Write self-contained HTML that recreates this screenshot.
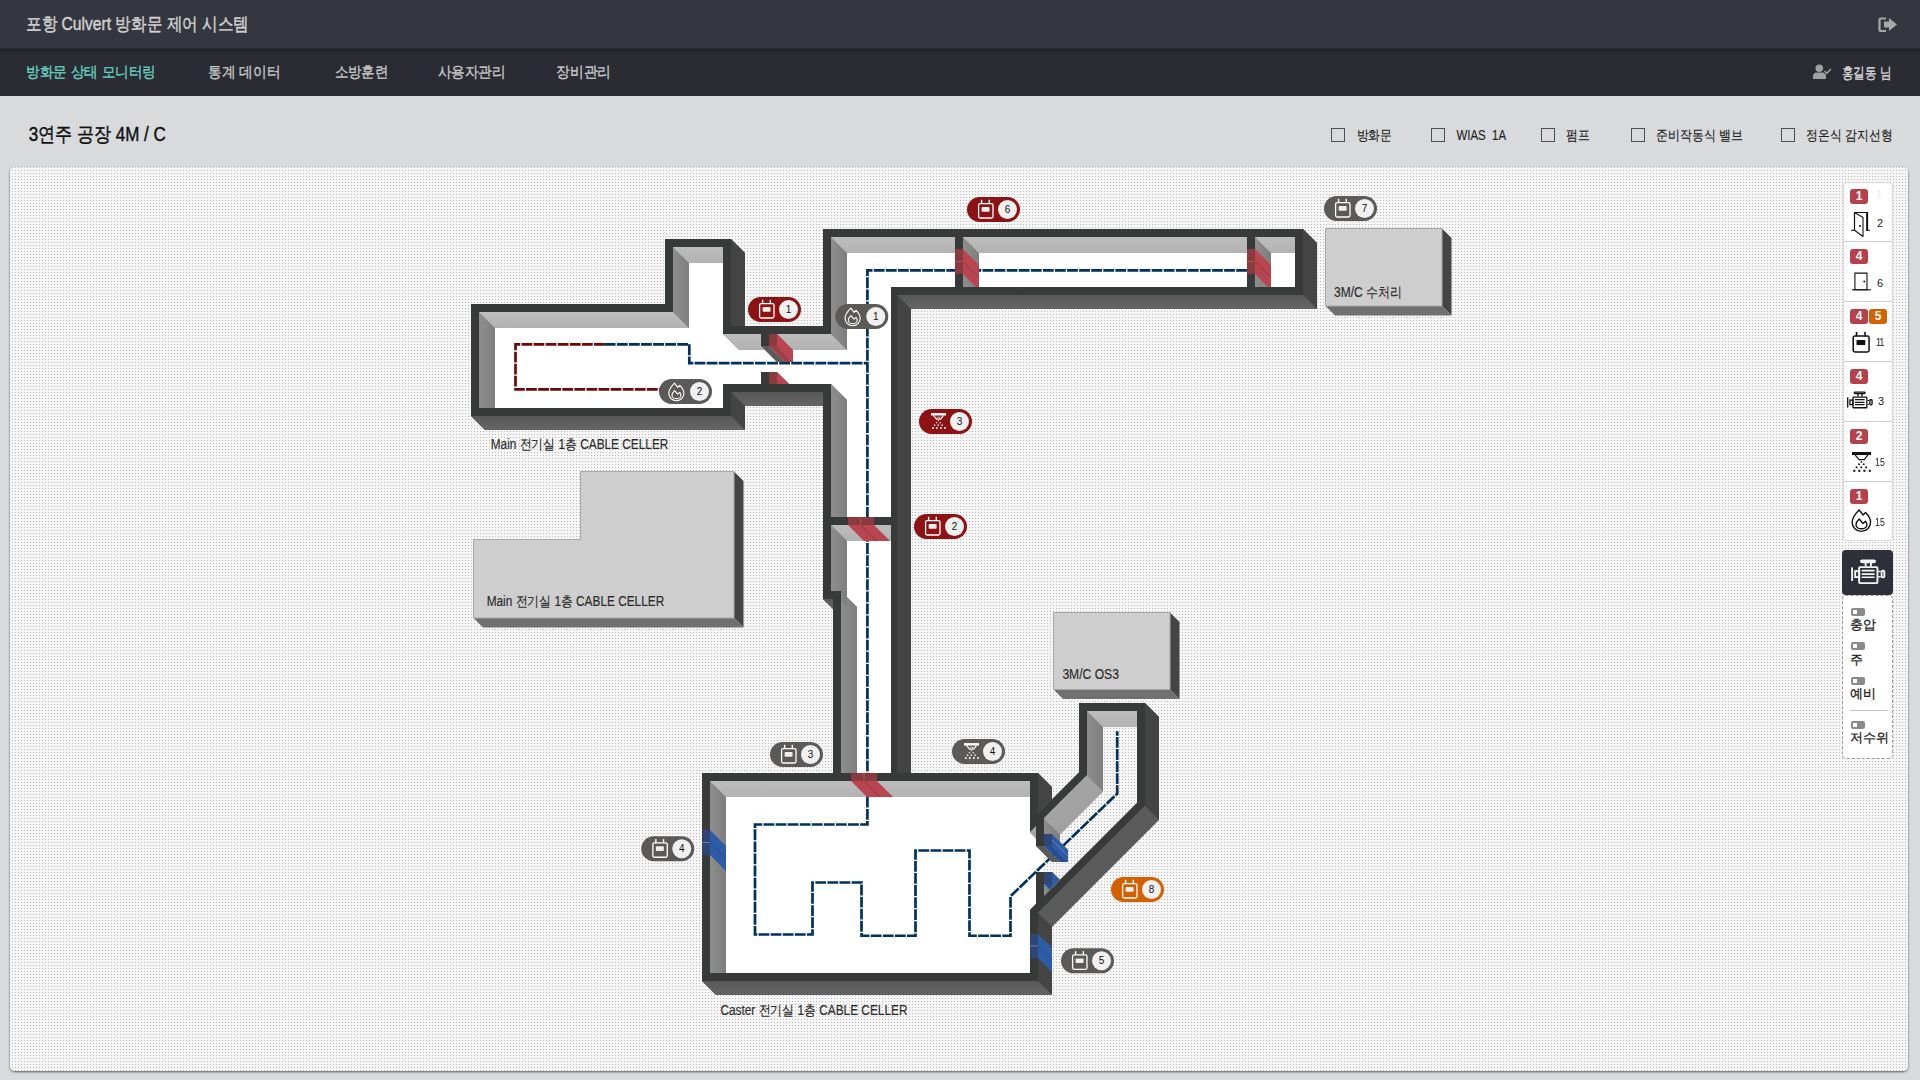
<!DOCTYPE html>
<html><head><meta charset="utf-8">
<style>
html,body{margin:0;padding:0;width:1920px;height:1080px;overflow:hidden;background:#d9dadc;font-family:"Liberation Sans",sans-serif;}
.hdr{position:absolute;left:0;top:0;width:1920px;height:48px;background:#34373f;border-bottom:1px solid #2b2c31;}
.nav{position:absolute;left:0;top:49px;width:1920px;height:47px;background:#2a2b33;box-shadow:inset 0 3px 3px -2px rgba(0,0,0,.35);}
.t{position:absolute;white-space:nowrap;line-height:1;}
svg.dg{position:absolute;left:0;top:0;}
svg text{font-family:"Liberation Sans",sans-serif;}
.bl{font-size:14px;fill:#2a2a2a;}
.bn{font-size:10px;fill:#111;text-anchor:middle;}
.cb{position:absolute;top:128px;width:12px;height:12px;border:1px solid #4a5058;}
.sb{position:absolute;left:1843px;width:50px;background:#fff;}
.rb{position:absolute;height:15px;width:18px;border-radius:3px;background:#b8404a;color:#fff;font-size:12px;font-weight:bold;text-align:center;line-height:15px;}
.num{position:absolute;font-size:11px;color:#222;line-height:1;}
.lbl{position:absolute;font-size:13px;color:#222;line-height:1;white-space:nowrap;-webkit-text-stroke:0.3px #222;}
.tg{position:absolute;left:1851px;width:14px;height:8px;border-radius:2px;background:#8a8a8a;}
.tg:after{content:"";position:absolute;left:2px;top:2px;width:4px;height:4px;background:#fff;}
</style></head><body>
<div class="hdr"></div>
<div class="nav"></div>
<div class="cb" style="left:1331px"></div><div class="cb" style="left:1431px"></div><div class="cb" style="left:1541px"></div><div class="cb" style="left:1631px"></div><div class="cb" style="left:1781px"></div>
<svg class="dg" width="1920" height="1080" viewBox="0 0 1920 1080">
<defs>
<linearGradient id="gIT" x1="0" y1="0" x2="0" y2="1"><stop offset="0" stop-color="#bdbdbd"/><stop offset="1" stop-color="#b2b2b2"/></linearGradient>
<linearGradient id="gIL" x1="0" y1="0" x2="1" y2="0"><stop offset="0" stop-color="#8e8e8e"/><stop offset="1" stop-color="#7e7e7e"/></linearGradient>
<linearGradient id="gID" x1="0" y1="0" x2="1" y2="1"><stop offset="0" stop-color="#a9a9a9"/><stop offset="1" stop-color="#9c9c9c"/></linearGradient>
<linearGradient id="gOB" x1="0" y1="0" x2="0" y2="1"><stop offset="0" stop-color="#585858"/><stop offset="1" stop-color="#656565"/></linearGradient>
<pattern id="dots" x="0" y="0" width="3" height="3" patternUnits="userSpaceOnUse"><rect width="3" height="3" fill="#f6f6f6"/><rect x="0" y="2" width="1" height="1" fill="#b8b8b8"/></pattern>
<filter id="psh" x="-1%" y="-1%" width="102%" height="103%"><feGaussianBlur in="SourceAlpha" stdDeviation="1"/><feOffset dy="0.5"/><feComponentTransfer><feFuncA type="linear" slope="0.6"/></feComponentTransfer><feMerge><feMergeNode/><feMergeNode in="SourceGraphic"/></feMerge></filter>
</defs>
<!-- header icons -->
<path d="M1886,18.5 L1881,18.5 Q1879.5,18.5 1879.5,20 L1879.5,29.5 Q1879.5,31 1881,31 L1886,31" fill="none" stroke="#a8a8a8" stroke-width="2.2"/>
<path d="M1884,21.6 L1889,21.6 L1889,18 L1897,24.5 L1889,31 L1889,27.4 L1884,27.4 Z" fill="#a8a8a8"/>
<circle cx="1819.3" cy="68.3" r="3.8" fill="#a0a0a0"/>
<path d="M1813,79 L1813,76.5 Q1813,72.5 1817,72.5 L1822,72.5 Q1826,72.5 1826,76.5 L1826,79 Z" fill="#a0a0a0"/>
<path d="M1824.6,71 L1826.8,73.3 L1830.8,69" fill="none" stroke="#a0a0a0" stroke-width="1.5"/>
<rect x="10" y="167" width="1898" height="904" rx="5" fill="url(#dots)" filter="url(#psh)"/>
<path d="M731.00,239.00 L731.00,326.00 L745.00,326.00 L745.00,253.00ZM731.00,416.00 L471.00,416.00 L485.00,430.00 L745.00,430.00 L745.00,406.00 L823.00,406.00 L823.00,392.00 L731.00,392.00ZM897.00,773.00 L911.00,773.00 L911.00,309.00 L1317.00,309.00 L1317.00,243.00 L1303.00,229.00 L1303.00,295.00 L897.00,295.00ZM833.00,609.00 L833.00,599.00 L823.00,599.00ZM1052.00,926.81 L1159.00,819.81 L1159.00,717.00 L1145.00,703.00 L1145.00,805.81 L1038.00,912.81 L1038.00,981.00 L702.00,981.00 L716.00,995.00 L1052.00,995.00ZM1038.00,813.19 L1052.00,799.19 L1052.00,787.00 L1038.00,773.00Z" fill="#505050" fill-rule="evenodd" />
<path d="M1303.00,295.00 L1317.00,309.00 L1317.00,243.00 L1303.00,229.00Z" fill="#444444" fill-rule="evenodd" />
<path d="M897.00,295.00 L911.00,309.00 L1317.00,309.00 L1303.00,295.00Z" fill="url(#gOB)" fill-rule="evenodd" />
<path d="M897.00,773.00 L911.00,773.00 L911.00,309.00 L897.00,295.00Z" fill="#444444" fill-rule="evenodd" />
<path d="M1038.00,813.19 L1052.00,799.19 L1052.00,787.00 L1038.00,773.00Z" fill="#444444" fill-rule="evenodd" />
<path d="M1145.00,805.81 L1159.00,819.81 L1159.00,717.00 L1145.00,703.00Z" fill="#444444" fill-rule="evenodd" />
<path d="M1038.00,912.81 L1052.00,926.81 L1159.00,819.81 L1145.00,805.81Z" fill="#5b5b5b" fill-rule="evenodd" />
<path d="M1038.00,981.00 L1052.00,995.00 L1052.00,926.81 L1038.00,912.81Z" fill="#444444" fill-rule="evenodd" />
<path d="M702.00,981.00 L716.00,995.00 L1052.00,995.00 L1038.00,981.00Z" fill="url(#gOB)" fill-rule="evenodd" />
<path d="M823.00,599.00 L833.00,609.00 L833.00,599.00Z" fill="url(#gOB)" fill-rule="evenodd" />
<path d="M731.00,392.00 L745.00,406.00 L823.00,406.00 L823.00,392.00Z" fill="url(#gOB)" fill-rule="evenodd" />
<path d="M731.00,416.00 L745.00,430.00 L745.00,406.00 L731.00,392.00Z" fill="#444444" fill-rule="evenodd" />
<path d="M471.00,416.00 L485.00,430.00 L745.00,430.00 L731.00,416.00Z" fill="url(#gOB)" fill-rule="evenodd" />
<path d="M731.00,326.00 L745.00,326.00 L745.00,253.00 L731.00,239.00Z" fill="#444444" fill-rule="evenodd" />
<path d="M823.00,229.00 L823.00,326.00 L731.00,326.00 L731.00,239.00 L665.00,239.00 L665.00,304.00 L471.00,304.00 L471.00,416.00 L731.00,416.00 L731.00,392.00 L823.00,392.00 L823.00,599.00 L833.00,599.00 L833.00,773.00 L702.00,773.00 L702.00,981.00 L1038.00,981.00 L1038.00,912.81 L1145.00,805.81 L1145.00,703.00 L1079.00,703.00 L1079.00,772.19 L1038.00,813.19 L1038.00,773.00 L897.00,773.00 L897.00,295.00 L1303.00,295.00 L1303.00,229.00ZM963.00,237.00 L1247.00,237.00 L1247.00,287.00 L963.00,287.00ZM1255.00,237.00 L1295.00,237.00 L1295.00,287.00 L1255.00,287.00ZM723.00,247.00 L723.00,334.00 L761.00,334.00 L761.00,346.00 L777.00,346.00 L777.00,334.00 L831.00,334.00 L831.00,237.00 L955.00,237.00 L955.00,287.00 L891.00,287.00 L891.00,517.00 L831.00,517.00 L831.00,384.00 L777.00,384.00 L777.00,372.00 L761.00,372.00 L761.00,384.00 L723.00,384.00 L723.00,408.00 L479.00,408.00 L479.00,312.00 L673.00,312.00 L673.00,247.00ZM841.00,591.00 L831.00,591.00 L831.00,525.00 L891.00,525.00 L891.00,773.00 L841.00,773.00ZM1087.00,711.00 L1137.00,711.00 L1137.00,802.50 L1052.00,887.50 L1044.00,895.50 L1044.00,884.00 L1052.00,884.00 L1052.00,872.00 L1036.00,872.00 L1036.00,903.50 L1030.00,909.50 L1030.00,973.00 L710.00,973.00 L710.00,781.00 L1030.00,781.00 L1030.00,832.50 L1036.00,826.50 L1036.00,846.00 L1052.00,846.00 L1052.00,834.00 L1044.00,834.00 L1044.00,818.50 L1087.00,775.50Z" fill="#383a3a" fill-rule="evenodd" />
<path d="M963.00,287.00 L1247.00,287.00 L1247.00,237.00 L963.00,237.00ZM1255.00,287.00 L1295.00,287.00 L1295.00,237.00 L1255.00,237.00ZM673.00,247.00 L673.00,312.00 L479.00,312.00 L479.00,408.00 L723.00,408.00 L723.00,384.00 L761.00,384.00 L761.00,372.00 L777.00,372.00 L777.00,384.00 L831.00,384.00 L831.00,517.00 L891.00,517.00 L891.00,287.00 L955.00,287.00 L955.00,237.00 L831.00,237.00 L831.00,334.00 L777.00,334.00 L777.00,346.00 L761.00,346.00 L761.00,334.00 L723.00,334.00 L723.00,247.00ZM841.00,773.00 L891.00,773.00 L891.00,525.00 L831.00,525.00 L831.00,591.00 L841.00,591.00ZM1030.00,781.00 L710.00,781.00 L710.00,973.00 L1030.00,973.00 L1030.00,909.50 L1036.00,903.50 L1036.00,872.00 L1044.00,872.00 L1044.00,846.00 L1036.00,846.00 L1036.00,826.50 L1030.00,832.50Z" fill="#ffffff" fill-rule="evenodd" />
<path d="M1137.00,711.00 L1087.00,711.00 L1087.00,775.50 L1044.00,818.50 L1044.00,834.00 L1052.00,834.00 L1052.00,846.00 L1044.00,846.00 L1044.00,872.00 L1052.00,872.00 L1052.00,884.00 L1044.00,884.00 L1044.00,895.50 L1052.00,887.50 L1137.00,802.50Z" fill="url(#dots)" fill-rule="evenodd" />
<path d="M479.00,312.00 L479.00,408.00 L495.00,408.00 L495.00,328.00 L689.00,328.00 L689.00,263.00 L723.00,263.00 L723.00,247.00 L673.00,247.00 L673.00,312.00ZM777.00,334.00 L777.00,346.00 L773.00,346.00 L761.00,346.00 L761.00,334.00 L723.00,334.00 L739.00,350.00 L765.00,350.00 L777.00,362.00 L793.00,362.00 L793.00,350.00 L847.00,350.00 L847.00,253.00 L955.00,253.00 L955.00,237.00 L831.00,237.00 L831.00,334.00ZM777.00,372.00 L777.00,384.00 L789.00,384.00ZM847.00,517.00 L847.00,400.00 L831.00,384.00 L831.00,517.00ZM831.00,591.00 L841.00,591.00 L841.00,601.00 L841.00,773.00 L857.00,773.00 L857.00,607.00 L847.00,597.00 L847.00,541.00 L891.00,541.00 L891.00,525.00 L831.00,525.00ZM726.00,973.00 L726.00,797.00 L1030.00,797.00 L1030.00,781.00 L710.00,781.00 L710.00,973.00ZM963.00,287.00 L979.00,287.00 L979.00,253.00 L1247.00,253.00 L1247.00,237.00 L963.00,237.00ZM1255.00,287.00 L1271.00,287.00 L1271.00,253.00 L1295.00,253.00 L1295.00,237.00 L1255.00,237.00ZM1087.00,775.50 L1044.00,818.50 L1044.00,834.00 L1052.00,834.00 L1052.00,842.00 L1052.00,846.00 L1048.50,846.00 L1043.50,846.00 L1036.00,846.00 L1052.00,862.00 L1068.00,862.00 L1068.00,850.00 L1060.00,842.00 L1060.00,834.50 L1103.00,791.50 L1103.00,727.00 L1137.00,727.00 L1137.00,711.00 L1087.00,711.00ZM1036.00,826.50 L1030.00,832.50 L1036.00,838.50ZM1044.00,884.00 L1044.00,895.50 L1049.75,889.75 L1052.00,887.50 L1053.75,885.75 L1059.75,879.75 L1052.00,872.00 L1052.00,884.00Z" fill="#9a9a9a" fill-rule="evenodd" />
<path d="M723.00,334.00 L739.00,350.00 L777.00,350.00 L773.00,346.00 L761.00,346.00 L761.00,334.00Z" fill="url(#gIT)" fill-rule="evenodd" />
<path d="M761.00,346.00 L777.00,362.00 L793.00,362.00 L777.00,346.00Z" fill="url(#gIT)" fill-rule="evenodd" />
<path d="M777.00,346.00 L793.00,362.00 L793.00,350.00 L777.00,334.00Z" fill="url(#gIL)" fill-rule="evenodd" />
<path d="M777.00,334.00 L793.00,350.00 L847.00,350.00 L831.00,334.00Z" fill="url(#gIT)" fill-rule="evenodd" />
<path d="M831.00,334.00 L847.00,350.00 L847.00,253.00 L831.00,237.00Z" fill="url(#gIL)" fill-rule="evenodd" />
<path d="M831.00,237.00 L847.00,253.00 L955.00,253.00 L955.00,237.00Z" fill="url(#gIT)" fill-rule="evenodd" />
<path d="M831.00,517.00 L847.00,517.00 L847.00,400.00 L831.00,384.00Z" fill="url(#gIL)" fill-rule="evenodd" />
<path d="M777.00,384.00 L789.00,384.00 L777.00,372.00Z" fill="url(#gIL)" fill-rule="evenodd" />
<path d="M479.00,408.00 L495.00,408.00 L495.00,328.00 L479.00,312.00Z" fill="url(#gIL)" fill-rule="evenodd" />
<path d="M479.00,312.00 L495.00,328.00 L689.00,328.00 L673.00,312.00Z" fill="url(#gIT)" fill-rule="evenodd" />
<path d="M673.00,312.00 L689.00,328.00 L689.00,263.00 L673.00,247.00Z" fill="url(#gIL)" fill-rule="evenodd" />
<path d="M673.00,247.00 L689.00,263.00 L723.00,263.00 L723.00,247.00Z" fill="url(#gIT)" fill-rule="evenodd" />
<path d="M963.00,287.00 L979.00,287.00 L979.00,253.00 L963.00,237.00Z" fill="url(#gIL)" fill-rule="evenodd" />
<path d="M963.00,237.00 L979.00,253.00 L1247.00,253.00 L1247.00,237.00Z" fill="url(#gIT)" fill-rule="evenodd" />
<path d="M1255.00,287.00 L1271.00,287.00 L1271.00,253.00 L1255.00,237.00Z" fill="url(#gIL)" fill-rule="evenodd" />
<path d="M1255.00,237.00 L1271.00,253.00 L1295.00,253.00 L1295.00,237.00Z" fill="url(#gIT)" fill-rule="evenodd" />
<path d="M831.00,525.00 L847.00,541.00 L891.00,541.00 L891.00,525.00Z" fill="url(#gIT)" fill-rule="evenodd" />
<path d="M841.00,773.00 L857.00,773.00 L857.00,607.00 L841.00,591.00Z" fill="url(#gIL)" fill-rule="evenodd" />
<path d="M831.00,591.00 L841.00,591.00 L841.00,601.00 L847.00,607.00 L847.00,541.00 L831.00,525.00Z" fill="url(#gIL)" fill-rule="evenodd" />
<path d="M1044.00,895.50 L1049.75,889.75 L1044.00,884.00Z" fill="url(#gIL)" fill-rule="evenodd" />
<path d="M1044.00,884.00 L1049.75,889.75 L1052.00,887.50 L1053.75,885.75 L1052.00,884.00Z" fill="url(#gIT)" fill-rule="evenodd" />
<path d="M1052.00,884.00 L1053.75,885.75 L1059.75,879.75 L1052.00,872.00Z" fill="url(#gIL)" fill-rule="evenodd" />
<path d="M710.00,973.00 L726.00,973.00 L726.00,797.00 L710.00,781.00Z" fill="url(#gIL)" fill-rule="evenodd" />
<path d="M710.00,781.00 L726.00,797.00 L1030.00,797.00 L1030.00,781.00Z" fill="url(#gIT)" fill-rule="evenodd" />
<path d="M1030.00,832.50 L1036.00,838.50 L1036.00,826.50ZM1046.00,848.50 L1048.50,846.00 L1043.50,846.00Z" fill="url(#gID)" fill-rule="evenodd" />
<path d="M1036.00,846.00 L1052.00,862.00 L1068.00,862.00 L1052.00,846.00Z" fill="url(#gIT)" fill-rule="evenodd" />
<path d="M1052.00,846.00 L1068.00,862.00 L1068.00,850.00 L1052.00,834.00Z" fill="url(#gIL)" fill-rule="evenodd" />
<path d="M1044.00,834.00 L1052.00,834.00 L1052.00,842.00 L1060.00,850.00 L1060.00,834.50 L1044.00,818.50Z" fill="url(#gIL)" fill-rule="evenodd" />
<path d="M1044.00,818.50 L1060.00,834.50 L1103.00,791.50 L1087.00,775.50Z" fill="url(#gID)" fill-rule="evenodd" />
<path d="M1087.00,775.50 L1103.00,791.50 L1103.00,727.00 L1087.00,711.00Z" fill="url(#gIL)" fill-rule="evenodd" />
<path d="M1087.00,711.00 L1103.00,727.00 L1137.00,727.00 L1137.00,711.00Z" fill="url(#gIT)" fill-rule="evenodd" />
<path d="M734,471.5 L743.5,481.0 L743.5,627.5 L734,618Z" fill="#444"/>
<path d="M473.5,618 L734,618 L743.5,627.5 L483.0,627.5Z" fill="#707070"/>
<path d="M580.5,471.5 L734,471.5 L734,618 L473.5,618 L473.5,539.5 L580.5,539.5Z" fill="#cecece" stroke="#a9a9a9" stroke-width="1"/>
<path d="M1442,228.5 L1451.5,238.0 L1451.5,315.5 L1442,306Z" fill="#444"/>
<path d="M1325.5,306 L1442,306 L1451.5,315.5 L1335.0,315.5Z" fill="#707070"/>
<path d="M1325.5,228.5 L1442,228.5 L1442,306 L1325.5,306Z" fill="#cecece" stroke="#a9a9a9" stroke-width="1"/>
<path d="M1170,612.5 L1179.5,622.0 L1179.5,699.0 L1170,689.5Z" fill="#444"/>
<path d="M1053.5,689.5 L1170,689.5 L1179.5,699.0 L1063.0,699.0Z" fill="#707070"/>
<path d="M1053.5,612.5 L1170,612.5 L1170,689.5 L1053.5,689.5Z" fill="#cecece" stroke="#a9a9a9" stroke-width="1"/>
<path d="M604.8,344.3 L515.5,344.3 L515.5,389.4 L660,389.4" fill="none" stroke="#6e0808" stroke-width="2.7" stroke-dasharray="10.8 1.28"/>
<path d="M604.8,344.3 L689.3,344.3 L689.3,363.2 L867.4,363.2" fill="none" stroke="#00305e" stroke-width="2.7" stroke-dasharray="10.8 1.28"/>
<path d="M1247,270.4 L867.4,270.4 L867.4,824.5 L755,824.5 L755,934.5 L812.5,934.5 L812.5,882.5 L861.5,882.5 L861.5,935.75 L915.5,935.75 L915.5,850.5 L969.5,850.5 L969.5,935.75 L1010.5,935.75 L1010.5,896.25 L1117.2,793.7 L1117.2,731.2" fill="none" stroke="#00305e" stroke-width="2.7" stroke-dasharray="10.8 1.28"/>
<path d="M761.00,334.00 L769.00,334.00 L769.00,346.00 L761.00,346.00Z" fill="#383a3a"/>
<path d="M769.00,334.00 L777.00,334.00 L777.00,346.00 L769.00,346.00Z" fill="#8b3a40"/>
<path d="M777.00,334.00 L793.00,350.00 L793.00,362.00 L777.00,346.00Z" fill="#b94550"/>
<path d="M761.00,346.00 L769.00,346.00 L785.00,362.00 L777.00,362.00Z" fill="#5a5a5a"/>
<path d="M769.00,346.00 L777.00,346.00 L793.00,362.00 L785.00,362.00Z" fill="#9e3f48"/>
<path d="M761.00,372.00 L769.00,372.00 L769.00,384.00 L761.00,384.00Z" fill="#383a3a"/>
<path d="M769.00,372.00 L777.00,372.00 L777.00,384.00 L769.00,384.00Z" fill="#8b3a40"/>
<path d="M777.00,372.00 L789.00,384.00 L777.00,384.00Z" fill="#b94550"/>
<path d="M955.00,249.00 L963.00,249.00 L963.00,274.00 L955.00,274.00Z" fill="#8b3a40"/>
<path d="M963.00,249.00 L963.00,274.00 L976.00,287.00 L979.00,287.00 L979.00,265.00Z" fill="#b94550"/>
<line x1="955" y1="261.5" x2="963" y2="261.5" stroke="#c07050" stroke-width="0.6"/>
<line x1="963" y1="261.5" x2="979" y2="277.5" stroke="#6e2a30" stroke-width="0.6"/>
<path d="M1247.00,249.00 L1255.00,249.00 L1255.00,274.00 L1247.00,274.00Z" fill="#8b3a40"/>
<path d="M1255.00,249.00 L1255.00,274.00 L1268.00,287.00 L1271.00,287.00 L1271.00,265.00Z" fill="#b94550"/>
<line x1="1247" y1="261.5" x2="1255" y2="261.5" stroke="#c07050" stroke-width="0.6"/>
<line x1="1255" y1="261.5" x2="1271" y2="277.5" stroke="#6e2a30" stroke-width="0.6"/>
<path d="M848.00,517.00 L874.00,517.00 L874.00,525.00 L848.00,525.00Z" fill="#8b3a40"/>
<path d="M848.00,525.00 L864.00,541.00 L890.00,541.00 L874.00,525.00Z" fill="#b94550"/>
<line x1="860.5" y1="517" x2="860.5" y2="525" stroke="#c07050" stroke-width="0.6"/>
<line x1="860.5" y1="525" x2="876.5" y2="541" stroke="#6e2a30" stroke-width="0.6"/>
<path d="M851.00,773.00 L877.00,773.00 L877.00,781.00 L851.00,781.00Z" fill="#8b3a40"/>
<path d="M851.00,781.00 L877.00,781.00 L893.00,797.00 L867.00,797.00Z" fill="#b94550"/>
<line x1="864" y1="773" x2="864" y2="781" stroke="#c07050" stroke-width="0.6"/>
<line x1="864" y1="781" x2="880" y2="797" stroke="#6e2a30" stroke-width="0.6"/>
<path d="M702.50,830.00 L710.00,830.00 L710.00,855.00 L702.50,855.00Z" fill="#2f4677"/>
<path d="M710.00,830.00 L726.00,846.00 L726.00,871.00 L710.00,855.00Z" fill="#2d5ca6"/>
<line x1="702.5" y1="842.5" x2="710" y2="842.5" stroke="#8aa0d0" stroke-width="0.6"/>
<line x1="710" y1="842.5" x2="726" y2="858.5" stroke="#1d3c70" stroke-width="0.6"/>
<path d="M1044.00,834.00 L1052.00,834.00 L1052.00,846.00 L1044.00,846.00Z" fill="#2f4677"/>
<path d="M1052.00,834.00 L1068.00,850.00 L1068.00,862.00 L1052.00,846.00Z" fill="#2d5ca6"/>
<path d="M1036.00,846.00 L1044.00,846.00 L1060.00,862.00 L1052.00,862.00Z" fill="#5a5a5a"/>
<path d="M1044.00,846.00 L1052.00,846.00 L1068.00,862.00 L1060.00,862.00Z" fill="#254f92"/>
<line x1="1052" y1="840" x2="1068" y2="856" stroke="#8aa0d0" stroke-width="0.6"/>
<path d="M1044.00,872.00 L1052.00,872.00 L1052.00,884.00 L1044.00,884.00Z" fill="#2f4677"/>
<path d="M1052.00,872.00 L1052.00,884.00 L1053.75,885.75 L1059.75,879.75Z" fill="#2d5ca6"/>
<path d="M1044.00,884.00 L1049.75,889.75 L1052.00,887.50 L1053.75,885.75 L1052.00,884.00Z" fill="#254f92"/>
<path d="M1030.00,934.00 L1038.00,934.00 L1038.00,958.00 L1030.00,958.00Z" fill="#2f4677"/>
<path d="M1038.00,934.00 L1052.00,948.00 L1052.00,972.00 L1038.00,958.00Z" fill="#2d5ca6"/>
<line x1="1030" y1="946" x2="1038" y2="946" stroke="#8aa0d0" stroke-width="0.6"/>
<line x1="1038" y1="946" x2="1052" y2="960" stroke="#1d3c70" stroke-width="0.6"/>
<g transform="translate(967,197)"><rect x="0" y="0" width="53" height="25" rx="12.5" fill="#8c1214"/><rect x="11.6" y="6.6" width="14.4" height="14.4" rx="1.5" fill="none" stroke="#fff" stroke-width="1.3"/><rect x="13.9" y="2.8" width="1.4" height="4" fill="#fff"/><rect x="21.6" y="2.8" width="1.4" height="4" fill="#fff"/><rect x="14.6" y="10.1" width="8" height="4.6" rx="0.8" fill="#eee"/><circle cx="40.5" cy="12.5" r="9.5" fill="#f0f0f0"/><text x="40.6" y="16.2" class="bn">6</text></g>
<g transform="translate(1324,196)"><rect x="0" y="0" width="53" height="25" rx="12.5" fill="#5b5a59"/><rect x="11.6" y="6.6" width="14.4" height="14.4" rx="1.5" fill="none" stroke="#fff" stroke-width="1.3"/><rect x="13.9" y="2.8" width="1.4" height="4" fill="#fff"/><rect x="21.6" y="2.8" width="1.4" height="4" fill="#fff"/><rect x="14.6" y="10.1" width="8" height="4.6" rx="0.8" fill="#eee"/><circle cx="40.5" cy="12.5" r="9.5" fill="#f0f0f0"/><text x="40.6" y="16.2" class="bn">7</text></g>
<g transform="translate(748,297)"><rect x="0" y="0" width="53" height="25" rx="12.5" fill="#8c1214"/><rect x="11.6" y="6.6" width="14.4" height="14.4" rx="1.5" fill="none" stroke="#fff" stroke-width="1.3"/><rect x="13.9" y="2.8" width="1.4" height="4" fill="#fff"/><rect x="21.6" y="2.8" width="1.4" height="4" fill="#fff"/><rect x="14.6" y="10.1" width="8" height="4.6" rx="0.8" fill="#eee"/><circle cx="40.5" cy="12.5" r="9.5" fill="#f0f0f0"/><text x="40.6" y="16.2" class="bn">1</text></g>
<g transform="translate(835.3,304)"><rect x="0" y="0" width="53" height="25" rx="12.5" fill="#5b5a59"/><path d="M15.5,4.1 L18.8,8.3 L20.8,6.3 C23.6,9 24.9,11.5 24.9,14.2 A7.55,7.5 0 0 1 9.8,14.2 C9.8,10.5 12.3,7.3 15.5,4.1 Z" fill="none" stroke="#fff" stroke-width="1.1" stroke-linejoin="round"/><path d="M15.6,11.6 L18.7,15.2 L20.7,13.4 C21.5,14.3 21.9,15.2 21.9,16.2 A4.45,3.4 0 0 1 13,16.2 C13,14.4 14,13 15.6,11.6 Z" fill="none" stroke="#fff" stroke-width="1.1" stroke-linejoin="round"/><circle cx="40.5" cy="12.5" r="9.5" fill="#f0f0f0"/><text x="40.6" y="16.2" class="bn">1</text></g>
<g transform="translate(659,379)"><rect x="0" y="0" width="53" height="25" rx="12.5" fill="#5b5a59"/><path d="M15.5,4.1 L18.8,8.3 L20.8,6.3 C23.6,9 24.9,11.5 24.9,14.2 A7.55,7.5 0 0 1 9.8,14.2 C9.8,10.5 12.3,7.3 15.5,4.1 Z" fill="none" stroke="#fff" stroke-width="1.1" stroke-linejoin="round"/><path d="M15.6,11.6 L18.7,15.2 L20.7,13.4 C21.5,14.3 21.9,15.2 21.9,16.2 A4.45,3.4 0 0 1 13,16.2 C13,14.4 14,13 15.6,11.6 Z" fill="none" stroke="#fff" stroke-width="1.1" stroke-linejoin="round"/><circle cx="40.5" cy="12.5" r="9.5" fill="#f0f0f0"/><text x="40.6" y="16.2" class="bn">2</text></g>
<g transform="translate(919,409)"><rect x="0" y="0" width="53" height="25" rx="12.5" fill="#8c1214"/><rect x="12" y="4.1" width="15" height="2.4" fill="#fff"/><path d="M14.4,6.4 L17.6,10.1 L21.7,10.1 L24.5,6.4" fill="none" stroke="#fff" stroke-width="1.1"/><path d="M18.1,7.6 L19.1,8.7 L19.8,7.9 L20.6,8.7 L21.3,7.6" fill="none" stroke="#fff" stroke-width="0.8"/><rect x="18.8" y="11.3" width="1" height="1" fill="#fff"/><rect x="16.9" y="13.1" width="1.2" height="1.2" fill="#fff"/><rect x="20.6" y="13.1" width="1.2" height="1.2" fill="#fff"/><rect x="14.9" y="15.5" width="1.4" height="1.4" fill="#fff"/><rect x="18.6" y="15.5" width="1.4" height="1.4" fill="#fff"/><rect x="22.4" y="15.5" width="1.4" height="1.4" fill="#fff"/><rect x="13" y="18.1" width="1.7" height="1.7" fill="#fff"/><rect x="16.9" y="18.1" width="1.7" height="1.7" fill="#fff"/><rect x="21" y="18.1" width="1.7" height="1.7" fill="#fff"/><rect x="25.2" y="18.1" width="1.7" height="1.7" fill="#fff"/><circle cx="40.5" cy="12.5" r="9.5" fill="#f0f0f0"/><text x="40.6" y="16.2" class="bn">3</text></g>
<g transform="translate(914,514)"><rect x="0" y="0" width="53" height="25" rx="12.5" fill="#8c1214"/><rect x="11.6" y="6.6" width="14.4" height="14.4" rx="1.5" fill="none" stroke="#fff" stroke-width="1.3"/><rect x="13.9" y="2.8" width="1.4" height="4" fill="#fff"/><rect x="21.6" y="2.8" width="1.4" height="4" fill="#fff"/><rect x="14.6" y="10.1" width="8" height="4.6" rx="0.8" fill="#eee"/><circle cx="40.5" cy="12.5" r="9.5" fill="#f0f0f0"/><text x="40.6" y="16.2" class="bn">2</text></g>
<g transform="translate(770,742)"><rect x="0" y="0" width="53" height="25" rx="12.5" fill="#5b5a59"/><rect x="11.6" y="6.6" width="14.4" height="14.4" rx="1.5" fill="none" stroke="#fff" stroke-width="1.3"/><rect x="13.9" y="2.8" width="1.4" height="4" fill="#fff"/><rect x="21.6" y="2.8" width="1.4" height="4" fill="#fff"/><rect x="14.6" y="10.1" width="8" height="4.6" rx="0.8" fill="#eee"/><circle cx="40.5" cy="12.5" r="9.5" fill="#f0f0f0"/><text x="40.6" y="16.2" class="bn">3</text></g>
<g transform="translate(952,739)"><rect x="0" y="0" width="53" height="25" rx="12.5" fill="#5b5a59"/><rect x="12" y="4.1" width="15" height="2.4" fill="#fff"/><path d="M14.4,6.4 L17.6,10.1 L21.7,10.1 L24.5,6.4" fill="none" stroke="#fff" stroke-width="1.1"/><path d="M18.1,7.6 L19.1,8.7 L19.8,7.9 L20.6,8.7 L21.3,7.6" fill="none" stroke="#fff" stroke-width="0.8"/><rect x="18.8" y="11.3" width="1" height="1" fill="#fff"/><rect x="16.9" y="13.1" width="1.2" height="1.2" fill="#fff"/><rect x="20.6" y="13.1" width="1.2" height="1.2" fill="#fff"/><rect x="14.9" y="15.5" width="1.4" height="1.4" fill="#fff"/><rect x="18.6" y="15.5" width="1.4" height="1.4" fill="#fff"/><rect x="22.4" y="15.5" width="1.4" height="1.4" fill="#fff"/><rect x="13" y="18.1" width="1.7" height="1.7" fill="#fff"/><rect x="16.9" y="18.1" width="1.7" height="1.7" fill="#fff"/><rect x="21" y="18.1" width="1.7" height="1.7" fill="#fff"/><rect x="25.2" y="18.1" width="1.7" height="1.7" fill="#fff"/><circle cx="40.5" cy="12.5" r="9.5" fill="#f0f0f0"/><text x="40.6" y="16.2" class="bn">4</text></g>
<g transform="translate(641.25,836.25)"><rect x="0" y="0" width="53" height="25" rx="12.5" fill="#5b5a59"/><rect x="11.6" y="6.6" width="14.4" height="14.4" rx="1.5" fill="none" stroke="#fff" stroke-width="1.3"/><rect x="13.9" y="2.8" width="1.4" height="4" fill="#fff"/><rect x="21.6" y="2.8" width="1.4" height="4" fill="#fff"/><rect x="14.6" y="10.1" width="8" height="4.6" rx="0.8" fill="#eee"/><circle cx="40.5" cy="12.5" r="9.5" fill="#f0f0f0"/><text x="40.6" y="16.2" class="bn">4</text></g>
<g transform="translate(1111,877)"><rect x="0" y="0" width="53" height="25" rx="12.5" fill="#d46000"/><rect x="11.6" y="6.6" width="14.4" height="14.4" rx="1.5" fill="none" stroke="#fff" stroke-width="1.3"/><rect x="13.9" y="2.8" width="1.4" height="4" fill="#fff"/><rect x="21.6" y="2.8" width="1.4" height="4" fill="#fff"/><rect x="14.6" y="10.1" width="8" height="4.6" rx="0.8" fill="#eee"/><circle cx="40.5" cy="12.5" r="9.5" fill="#f0f0f0"/><text x="40.6" y="16.2" class="bn">8</text></g>
<g transform="translate(1061,948.3)"><rect x="0" y="0" width="53" height="25" rx="12.5" fill="#5b5a59"/><rect x="11.6" y="6.6" width="14.4" height="14.4" rx="1.5" fill="none" stroke="#fff" stroke-width="1.3"/><rect x="13.9" y="2.8" width="1.4" height="4" fill="#fff"/><rect x="21.6" y="2.8" width="1.4" height="4" fill="#fff"/><rect x="14.6" y="10.1" width="8" height="4.6" rx="0.8" fill="#eee"/><circle cx="40.5" cy="12.5" r="9.5" fill="#f0f0f0"/><text x="40.6" y="16.2" class="bn">5</text></g>
<text x="26" y="30" font-size="18" fill="#d0d0d0" textLength="223" lengthAdjust="spacingAndGlyphs" stroke="#d0d0d0" stroke-width="0.45" xml:space="preserve">포항 Culvert 방화문 제어 시스템</text>
<text x="26" y="77" font-size="15" fill="#68d2c0" textLength="130" lengthAdjust="spacingAndGlyphs" stroke="#68d2c0" stroke-width="0.35" xml:space="preserve">방화문 상태 모니터링</text>
<text x="208.3" y="77" font-size="15" fill="#c8c8c8" textLength="72.30000000000001" lengthAdjust="spacingAndGlyphs" stroke="#c8c8c8" stroke-width="0.35" xml:space="preserve">통계 데이터</text>
<text x="334.5" y="77" font-size="15" fill="#c8c8c8" textLength="53.89999999999998" lengthAdjust="spacingAndGlyphs" stroke="#c8c8c8" stroke-width="0.35" xml:space="preserve">소방훈련</text>
<text x="437.5" y="77" font-size="15" fill="#c8c8c8" textLength="68.30000000000001" lengthAdjust="spacingAndGlyphs" stroke="#c8c8c8" stroke-width="0.35" xml:space="preserve">사용자관리</text>
<text x="556.1" y="77" font-size="15" fill="#c8c8c8" textLength="55.10000000000002" lengthAdjust="spacingAndGlyphs" stroke="#c8c8c8" stroke-width="0.35" xml:space="preserve">장비관리</text>
<text x="1841.7" y="78" font-size="15" fill="#d8d8d8" textLength="49.59999999999991" lengthAdjust="spacingAndGlyphs" stroke="#d8d8d8" stroke-width="0.35" xml:space="preserve">홍길동 님</text>
<text x="28.75" y="141" font-size="20" fill="#111" textLength="137.05" lengthAdjust="spacingAndGlyphs" stroke="#111" stroke-width="0.45" xml:space="preserve">3연주 공장 4M / C</text>
<text x="1356.5" y="140" font-size="14" fill="#222" textLength="35.5" lengthAdjust="spacingAndGlyphs" stroke="#222" stroke-width="0.15" xml:space="preserve">방화문</text>
<text x="1456.5" y="140" font-size="14" fill="#222" textLength="49.5" lengthAdjust="spacingAndGlyphs" stroke="#222" stroke-width="0.15" xml:space="preserve">WIAS  1A</text>
<text x="1566.4" y="140" font-size="14" fill="#222" textLength="23.59999999999991" lengthAdjust="spacingAndGlyphs" stroke="#222" stroke-width="0.15" xml:space="preserve">펌프</text>
<text x="1656.2" y="140" font-size="14" fill="#222" textLength="86.79999999999995" lengthAdjust="spacingAndGlyphs" stroke="#222" stroke-width="0.15" xml:space="preserve">준비작동식 밸브</text>
<text x="1806.3" y="140" font-size="14" fill="#222" textLength="86.20000000000005" lengthAdjust="spacingAndGlyphs" stroke="#222" stroke-width="0.15" xml:space="preserve">정온식 감지선형</text>
<text x="490.7" y="448.8" font-size="14" fill="#2a2a2a" textLength="177.7" lengthAdjust="spacingAndGlyphs" stroke="#2a2a2a" stroke-width="0.15" xml:space="preserve">Main 전기실 1층 CABLE CELLER</text>
<text x="486.7" y="605.8" font-size="14" fill="#2a2a2a" textLength="177.50000000000006" lengthAdjust="spacingAndGlyphs" stroke="#2a2a2a" stroke-width="0.15" xml:space="preserve">Main 전기실 1층 CABLE CELLER</text>
<text x="1334" y="297.4" font-size="14" fill="#2a2a2a" textLength="68" lengthAdjust="spacingAndGlyphs" stroke="#2a2a2a" stroke-width="0.15" xml:space="preserve">3M/C 수처리</text>
<text x="1062.4" y="678.6" font-size="14" fill="#2a2a2a" textLength="56.5" lengthAdjust="spacingAndGlyphs" stroke="#2a2a2a" stroke-width="0.15" xml:space="preserve">3M/C OS3</text>
<text x="720.4" y="1014.7" font-size="14" fill="#2a2a2a" textLength="187.10000000000002" lengthAdjust="spacingAndGlyphs" stroke="#2a2a2a" stroke-width="0.15" xml:space="preserve">Caster 전기실 1층 CABLE CELLER</text>
</svg>
<!-- sidebar -->
<div class="sb" style="top:182px;height:359px;border:1px solid #d8d8d8;border-radius:4px;box-sizing:border-box;"></div>
<div style="position:absolute;left:1844px;top:241px;width:48px;height:1px;background:#d0d0d0"></div>
<div style="position:absolute;left:1844px;top:301px;width:48px;height:1px;background:#d0d0d0"></div>
<div style="position:absolute;left:1844px;top:361px;width:48px;height:1px;background:#d0d0d0"></div>
<div style="position:absolute;left:1844px;top:421px;width:48px;height:1px;background:#d0d0d0"></div>
<div style="position:absolute;left:1844px;top:481px;width:48px;height:1px;background:#d0d0d0"></div>
<div class="rb" style="left:1850px;top:189px">1</div>
<div class="rb" style="left:1850px;top:249px">4</div>
<div class="rb" style="left:1850px;top:309px">4</div><div class="rb" style="left:1869px;top:309px;background:#d46000">5</div>
<div class="rb" style="left:1850px;top:369px">4</div>
<div class="rb" style="left:1850px;top:429px">2</div>
<div class="rb" style="left:1850px;top:489px">1</div>
<div class="num" style="left:1877px;top:218px">2</div>
<div class="num" style="left:1877px;top:278px">6</div>
<div class="num" style="left:1876px;top:337px;letter-spacing:-1.5px;transform:scaleX(0.85);transform-origin:left">11</div><div class="num" style="left:1876px;top:189px;color:#ececec">1</div>
<div class="num" style="left:1878px;top:396px">3</div>
<div class="num" style="left:1875px;top:457px;transform:scaleX(0.8);transform-origin:left">15</div>
<div class="num" style="left:1875px;top:517px;transform:scaleX(0.8);transform-origin:left">15</div>
<svg style="position:absolute;left:0;top:0" width="1920" height="1080">
<!-- door open -->
<g fill="none" stroke="#111" stroke-width="1.1">
<path d="M1854.5,230.3 L1854.5,212.5 L1867,212.5 L1867,230.3"/><path d="M1851,230.3 L1854.5,230.3 M1866,230.3 L1870,230.3"/>
<path d="M1867.2,212 L1867.2,230.3" stroke-width="1.8"/>
<path d="M1854.5,212.5 L1863,217.5 L1863,236.5 L1854.5,230.3 Z" stroke-linejoin="round"/>
<path d="M1854.9,273.1 L1867,273.1 L1867,289.8 L1854.9,289.8 Z"/><path d="M1852,289.8 L1871,289.8"/>
</g>
<circle cx="1860" cy="226" r="1" fill="#111"/><circle cx="1864.3" cy="281.5" r="1" fill="#111"/>
<g transform="translate(1840.44,328.84) scale(1.1)"><rect x="11.6" y="6.6" width="14.4" height="14.4" rx="1.5" fill="none" stroke="#111" stroke-width="1.4"/><rect x="13.9" y="2.8" width="1.5" height="4" fill="#111"/><rect x="21.6" y="2.8" width="1.5" height="4" fill="#111"/><rect x="14.6" y="10.1" width="8" height="4.6" rx="0.8" fill="#111"/></g>
<rect x="1852.95" y="397.05" width="13.90" height="10.70" rx="0.60" fill="none" stroke="#111" stroke-width="1.3"/>
<rect x="1854.25" y="392.05" width="10.90" height="1.50" rx="1.00" fill="none" stroke="#111" stroke-width="1.3"/>
<path d="M1857.90,393.80 L1857.90,396.40 M1861.90,393.80 L1861.90,396.40" stroke="#111" stroke-width="1.3"/>
<path d="M1855.40,399.70 L1864.10,399.70" stroke="#111" stroke-width="1.2" stroke-linecap="round"/>
<path d="M1855.40,402.40 L1864.10,402.40" stroke="#111" stroke-width="1.2" stroke-linecap="round"/>
<path d="M1855.40,404.70 L1864.10,404.70" stroke="#111" stroke-width="1.2" stroke-linecap="round"/>
<rect x="1849.95" y="400.05" width="3.00" height="4.60" fill="none" stroke="#111" stroke-width="1.3"/>
<path d="M1847.70,397.30 L1847.70,407.50" stroke="#111" stroke-width="1.3"/>
<rect x="1869.85" y="399.75" width="2.20" height="5.10" rx="0.80" fill="none" stroke="#111" stroke-width="1.3"/>
<path d="M1867.50,400.40 L1869.20,400.40 M1867.50,404.30 L1869.20,404.30" stroke="#111" stroke-width="1.04"/>
<g transform="translate(1836.76,446.8) scale(1.27)">
<rect x="12" y="4.1" width="15" height="2.4" fill="#111"/>
<path d="M14.4,6.4 L17.6,10.1 L21.7,10.1 L24.5,6.4" fill="none" stroke="#111" stroke-width="0.9"/>
<g fill="#111"><rect x="18.8" y="11.3" width="1.2" height="1.2"/><rect x="16.9" y="13.1" width="1.3" height="1.3"/><rect x="20.6" y="13.1" width="1.3" height="1.3"/><rect x="14.9" y="15.5" width="1.4" height="1.4"/><rect x="18.6" y="15.5" width="1.4" height="1.4"/><rect x="22.4" y="15.5" width="1.4" height="1.4"/><rect x="13" y="18.1" width="1.6" height="1.6"/><rect x="16.9" y="18.1" width="1.6" height="1.6"/><rect x="21" y="18.1" width="1.6" height="1.6"/><rect x="25.2" y="18.1" width="1.6" height="1.6"/></g></g>
<g transform="translate(1840.17,504.88) scale(1.22)" fill="none" stroke="#111" stroke-width="1.15" stroke-linejoin="round"><path d="M15.5,4.1 L18.8,8.3 L20.8,6.3 C23.6,9 24.9,11.5 24.9,14.2 A7.55,7.5 0 0 1 9.8,14.2 C9.8,10.5 12.3,7.3 15.5,4.1 Z"/><path d="M15.6,11.6 L18.7,15.2 L20.7,13.4 C21.5,14.3 21.9,15.2 21.9,16.2 A4.45,3.4 0 0 1 13,16.2 C13,14.4 14,13 15.6,11.6 Z"/></g>
<!-- pump panel -->
<path d="M1842,554 Q1842,550 1846,550 L1889,550 Q1893,550 1893,554 L1893,591 Q1893,595 1889,595 L1846,595 Q1842,595 1842,591 Z" fill="#2d3039"/>
<rect x="1859.15" y="567.15" width="18.30" height="16.00" rx="0.80" fill="none" stroke="#f4f4f4" stroke-width="1.9"/>
<rect x="1860.88" y="560.51" width="14.31" height="1.69" rx="1.33" fill="none" stroke="#f4f4f4" stroke-width="1.9"/>
<path d="M1865.64,562.74 L1865.64,566.20 M1870.96,562.74 L1870.96,566.20" stroke="#f4f4f4" stroke-width="1.9"/>
<path d="M1862.32,570.59 L1873.88,570.59" stroke="#f4f4f4" stroke-width="1.7" stroke-linecap="round"/>
<path d="M1862.32,574.17 L1873.88,574.17" stroke="#f4f4f4" stroke-width="1.7" stroke-linecap="round"/>
<path d="M1862.32,577.23 L1873.88,577.23" stroke="#f4f4f4" stroke-width="1.7" stroke-linecap="round"/>
<rect x="1855.16" y="571.14" width="3.99" height="5.94" fill="none" stroke="#f4f4f4" stroke-width="1.9"/>
<path d="M1852.09,567.40 L1852.09,580.95" stroke="#f4f4f4" stroke-width="1.9"/>
<rect x="1881.61" y="570.74" width="2.75" height="6.61" rx="1.06" fill="none" stroke="#f4f4f4" stroke-width="1.9"/>
<path d="M1878.40,571.52 L1880.66,571.52 M1878.40,576.70 L1880.66,576.70" stroke="#f4f4f4" stroke-width="1.52"/>
<rect x="1842.5" y="595.5" width="50" height="163" rx="3" fill="#fff" stroke="#999" stroke-width="1" stroke-dasharray="3 2"/>
<line x1="1850" y1="710.5" x2="1888" y2="710.5" stroke="#c8c8c8" stroke-width="1"/>
</svg>
<div class="tg" style="top:608px"></div><div class="lbl" style="left:1850px;top:618px">충압</div>
<div class="tg" style="top:642px"></div><div class="lbl" style="left:1850px;top:653px">주</div>
<div class="tg" style="top:677px"></div><div class="lbl" style="left:1850px;top:687px">예비</div>
<div class="tg" style="top:721px"></div><div class="lbl" style="left:1850px;top:731px">저수위</div>
</body></html>
